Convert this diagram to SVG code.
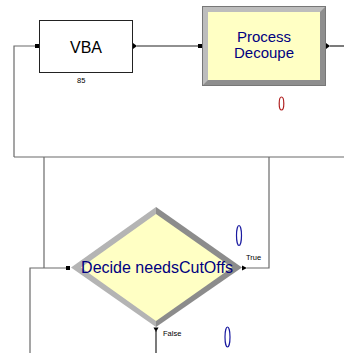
<svg xmlns="http://www.w3.org/2000/svg" width="344" height="353" viewBox="0 0 344 353">
<style>
.ln{fill:none;stroke:#6a6a6a;stroke-width:1.2}
.lk{fill:none;stroke:#222;stroke-width:1.2}
.mk{fill:#000}
.lbl{font-family:"Liberation Sans",Arial,sans-serif;fill:#000080}
.sm{font-family:"Liberation Sans",Arial,sans-serif;font-size:7.5px}
.ell{fill:none;stroke-width:1.2}
</style>
<rect width="344" height="353" fill="#fff"/>
<g id="connectors">
<polyline class="ln" points="14,157 14,46 36,46"/>
<line class="lk" x1="137" y1="46" x2="199" y2="46"/>
<line class="lk" x1="330" y1="46" x2="344" y2="46"/>
<line class="ln" x1="14" y1="157" x2="344" y2="157"/>
<line class="ln" x1="44" y1="157" x2="44" y2="268"/>
<polyline class="ln" points="247,268 269,268 269,157"/>
<polyline class="ln" points="30,353 30,268 67,268"/>
<line class="lk" x1="156" y1="331" x2="156" y2="353"/>
<rect class="mk" x="35" y="44" width="4" height="4"/>
<polygon class="mk" points="133,43 137,46 133,49"/>
<rect class="mk" x="198" y="44" width="4" height="4"/>
<polygon class="mk" points="326,43 330,46 326,49"/>
<rect class="mk" x="66" y="266" width="4" height="4"/>
<polygon class="mk" points="242,265.5 247,268 242,270.5"/>
<polygon class="mk" points="153.5,327.5 158.5,327.5 156,332"/>
</g>
<g id="vba">
<rect x="39.5" y="20.5" width="93" height="52" fill="#fff" stroke="#222" stroke-width="1"/>
<text x="86" y="53" font-family="Liberation Sans, Arial, sans-serif" font-size="16" text-anchor="middle" fill="#000">VBA</text>
<text class="sm" x="77" y="83" fill="#000">85</text>
</g>
<g id="process">
<rect x="202" y="6" width="124" height="80" fill="#8e8e8e"/>
<polygon points="202,6 326,6 320,12 208,12 208,80 202,86" fill="#bdbdbd"/>
<rect x="208" y="12" width="112" height="68" fill="#ffffc4"/>
<rect x="202.5" y="6.5" width="123" height="79" fill="none" stroke="#777" stroke-width="1"/>
<text class="lbl" x="264" y="42" font-size="15" text-anchor="middle">Process</text>
<text class="lbl" x="264" y="58" font-size="15" text-anchor="middle">Decoupe</text>
<ellipse class="ell" cx="281.5" cy="103.5" rx="2.3" ry="6.5" stroke="#b02020"/>
</g>
<g id="decide">
<polygon points="156,207 71,267.5 156,327" fill="#b4b4b4"/>
<polygon points="156,207 242,267.5 156,327" fill="#8c8c8c"/>
<polygon points="156,214 81,267.5 156,321 232,267.5" fill="#ffffc4"/>
<text class="lbl" x="157" y="273" font-size="16" text-anchor="middle">Decide needsCutOffs</text>
<text class="sm" x="246" y="260" fill="#000">True</text>
<text class="sm" x="163" y="336" fill="#000">False</text>
<ellipse class="ell" cx="239" cy="235.5" rx="2.5" ry="10" stroke="#1a1aa0"/>
<ellipse class="ell" cx="227.5" cy="337" rx="2.5" ry="10" stroke="#1a1aa0"/>
</g>
</svg>
